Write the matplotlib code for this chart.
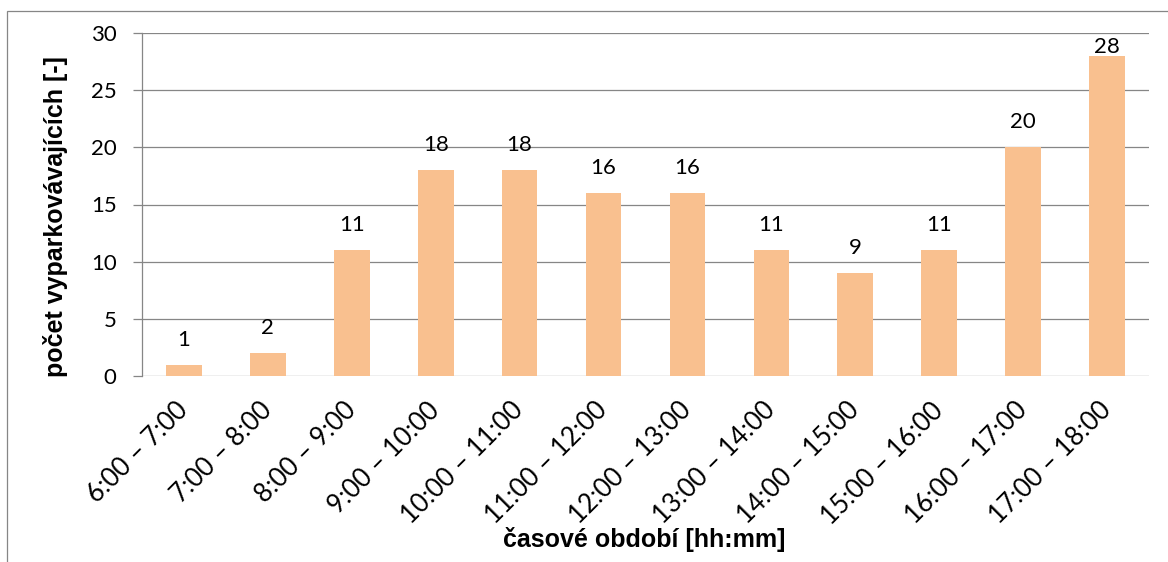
import matplotlib.pyplot as plt
from matplotlib.patches import Rectangle

# Počet vyparkovávajících vozidel v jednotlivých hodinách
obdobi = ['6:00 – 7:00', '7:00 – 8:00', '8:00 – 9:00', '9:00 – 10:00',
          '10:00 – 11:00', '11:00 – 12:00', '12:00 – 13:00', '13:00 – 14:00',
          '14:00 – 15:00', '15:00 – 16:00', '16:00 – 17:00', '17:00 – 18:00']
pocty = [1, 2, 11, 18, 18, 16, 16, 11, 9, 11, 20, 28]
y_ticks = [0, 5, 10, 15, 20, 25, 30]

W, H = 1168, 562
fig = plt.figure(figsize=(W / 100, H / 100), dpi=100)
ax = fig.add_axes([142 / W, 1 - 376 / H, (1149 - 142) / W, (376 - 33) / H])

grid_c = '#868686'
font = 'Lato'
fs = 16
x = range(len(obdobi))
ax.bar(x, pocty, width=0.425, color='#F9C08F', zorder=3)
ax.set_xlim(-0.5, len(obdobi) - 0.5)
ax.set_ylim(0, 30)
ax.set_yticks(y_ticks)
ax.yaxis.grid(True, color=grid_c, linewidth=0.9)
ax.set_axisbelow(True)

for s in ['top', 'right', 'bottom']:
    ax.spines[s].set_visible(False)
ax.spines['left'].set_color(grid_c)
ax.spines['left'].set_linewidth(0.9)
ax.tick_params(axis='y', length=6.8, width=0.9, color=grid_c, pad=11.5)
ax.tick_params(axis='x', length=0, pad=22)

ax.set_yticklabels([str(v) for v in y_ticks], fontfamily=font, fontsize=fs)
ax.set_xticks(list(x))
ax.set_xticklabels(obdobi, fontfamily=font, fontsize=18.5, rotation=45,
                   ha='right', va='center', rotation_mode='anchor')

# popisky hodnot nad sloupci (u nejvyššího sloupce těsně nad ním)
for i, v in enumerate(pocty):
    off = 13.7 if v < 26 else 2.2
    ax.annotate(str(v), (i, v), xytext=(0, off), textcoords='offset points',
                ha='center', va='baseline', fontfamily=font, fontsize=fs,
                zorder=4)

fig.text(56 / W, 1 - 217 / H, 'počet vyparkovávajících [-]',
         rotation=90, ha='center', va='center',
         fontfamily='Liberation Sans', fontweight='bold', fontsize=18)
fig.text(644 / W, 15 / H, 'časové období [hh:mm]', ha='center', va='baseline',
         fontfamily='Liberation Sans', fontweight='bold', fontsize=18)

# rámeček grafu
fig.patches.append(Rectangle((7 / W, -0.1), 1.2, 1 - 11 / H + 0.1,
                             transform=fig.transFigure, fill=False,
                             edgecolor=grid_c, linewidth=0.9))

fig.savefig('out.png', dpi=100)
